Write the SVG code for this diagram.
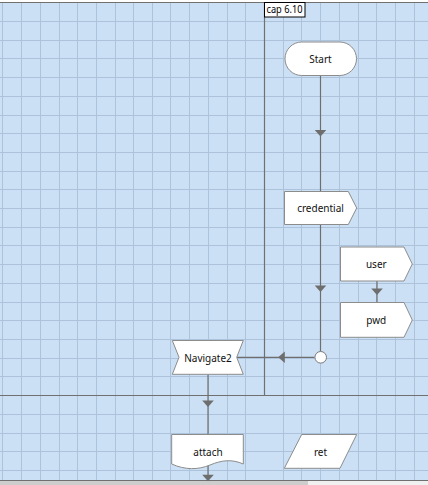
<svg xmlns="http://www.w3.org/2000/svg" width="428" height="485" viewBox="0 0 428 485">
<defs>
<style>
.bg{fill:#cce0f5}
.grid{stroke:#adc3dc;stroke-width:1;fill:none}
.lane{stroke:#707070;stroke-width:1.2;fill:none}
.node{fill:#ffffff;stroke:#8c8c8c;stroke-width:1}
.conn{stroke:#6e6e6e;stroke-width:1.2;fill:none}
.arr{fill:#6e6e6e}
.lbl{font-family:"Noto Sans","Open Sans","DejaVu Sans",sans-serif;font-size:10px;fill:#111;text-anchor:middle;dominant-baseline:central}
.cap{font-family:"Noto Sans","Open Sans","DejaVu Sans",sans-serif;font-size:10px;fill:#000}
</style>
<path id="arrDown" d="M-5.8,-3.3 L5.8,-3.3 L0,3.3 Z"/>
</defs>
<rect x="0" y="0" width="428" height="485" fill="#ffffff"/>
<rect class="bg" x="0" y="2" width="428" height="479"/>
<path class="grid" d="M2.5,2V481M21.5,2V481M40.5,2V481M59.5,2V481M77.5,2V481M96.5,2V481M115.5,2V481M133.5,2V481M152.5,2V481M170.5,2V481M189.5,2V481M208.5,2V481M227.5,2V481M245.5,2V481M283.5,2V481M301.5,2V481M320.5,2V481M339.5,2V481M358.5,2V481M376.5,2V481M395.5,2V481M414.5,2V481
M0,21.5H428M0,40.5H428M0,58.5H428M0,77.5H428M0,96.5H428M0,115.5H428M0,133.5H428M0,152.5H428M0,171.5H428M0,189.5H428M0,208.5H428M0,227.5H428M0,245.5H428M0,264.5H428M0,283.5H428M0,302.5H428M0,320.5H428M0,339.5H428M0,358.5H428M0,376.5H428M0,414.5H428M0,433.5H428M0,451.5H428M0,470.5H428"/>
<g id="lanes">
<path class="lane" d="M0,2.5H428M264.5,2V395M0,395.5H428M0,480.5H428"/>
</g>
<rect x="0" y="481" width="308" height="4" fill="#cdcdcd"/>
<rect x="308" y="481" width="120" height="4" fill="#f0f0f0"/>
<g id="cap">
<rect x="264.5" y="2.5" width="40.5" height="14.5" fill="#ffffff" stroke="#000" stroke-width="1"/>
<text class="cap" x="266.5" y="13.3" textLength="36" lengthAdjust="spacingAndGlyphs">cap 6.10</text>
</g>
<g id="connectors">
<path class="conn" d="M320.5,75V191M320.5,224.5V351M377,281V302.5M314.5,357.3H237M208,374.5V434.5M208,465V481"/>
<use href="#arrDown" class="arr" transform="translate(320.5,133.2)"/>
<use href="#arrDown" class="arr" transform="translate(320.5,288.7)"/>
<use href="#arrDown" class="arr" transform="translate(377,291.8)"/>
<use href="#arrDown" class="arr" transform="translate(208,403.7)"/>
<use href="#arrDown" class="arr" transform="translate(208,478)"/>
<use href="#arrDown" class="arr" transform="translate(281.5,357.3) rotate(90)"/>
</g>
<g id="start">
<rect class="node" x="285" y="42" width="71.5" height="33.5" rx="16.7" stroke="#9a9a9a" stroke-width="1.3"/>
<text class="lbl" x="320.5" y="58.8">Start</text>
</g>
<g id="credential">
<path class="node" d="M284.5,191.5H348.3L356.7,208L348.3,224.5H284.5Z"/>
<text class="lbl" x="320.5" y="208">credential</text>
</g>
<g id="user">
<path class="node" d="M340.5,247H404L412.3,264L404,281H340.5Z"/>
<text class="lbl" x="376.3" y="264">user</text>
</g>
<g id="pwd">
<path class="node" d="M340.5,302.5H404L412.3,320L404,337.3H340.5Z"/>
<text class="lbl" x="376.3" y="320">pwd</text>
</g>
<g id="join">
<circle cx="320.7" cy="357.3" r="5.8" fill="#ffffff" stroke="#7a7a7a" stroke-width="1"/>
</g>
<g id="navigate2">
<path class="node" d="M172.3,340.5H243.3L236.7,357.3L243.3,374.3H172.3L179,357.3Z"/>
<text class="lbl" x="208" y="357.5">Navigate2</text>
</g>
<g id="attach">
<path class="node" d="M171.7,434.5H243.3V464C232,459 222,460 210,465C198,470 185,470 171.7,464Z"/>
<text class="lbl" x="208" y="452">attach</text>
</g>
<g id="ret">
<path class="node" d="M301.7,434.5H356.7L340,468.3H284.3Z"/>
<text class="lbl" x="320.5" y="451.5">ret</text>
</g>
</svg>
